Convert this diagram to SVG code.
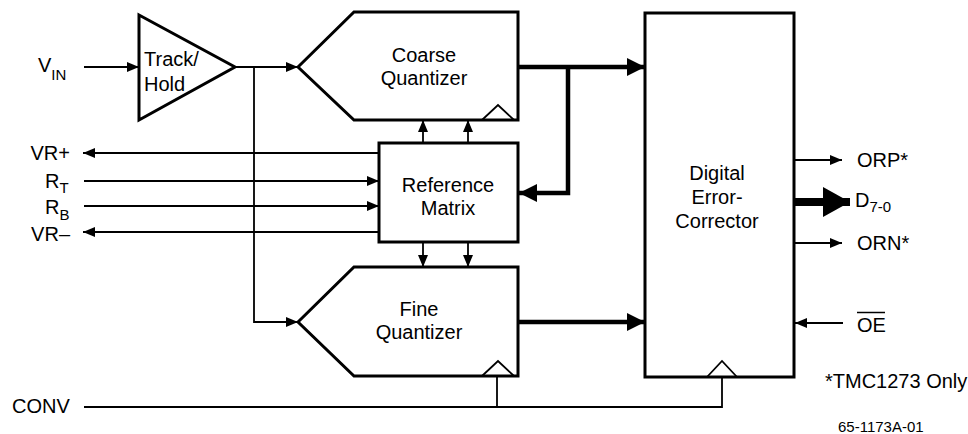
<svg xmlns="http://www.w3.org/2000/svg" width="968" height="434" viewBox="0 0 968 434">
<style>
text{font-family:"Liberation Sans",Arial,sans-serif;font-size:20px;fill:#000}
.box{fill:#fff;stroke:#000;stroke-width:3;stroke-linejoin:miter}
.thin{fill:none;stroke:#000;stroke-width:1.8}
.thick{fill:none;stroke:#000;stroke-width:4.5}
.clk{fill:none;stroke:#000;stroke-width:1.8}
.c{text-anchor:middle}
.r{text-anchor:end}
.sub{font-size:15px}
</style>
<defs>
<marker id="a" viewBox="0 0 12 10" refX="12" refY="5" markerWidth="12" markerHeight="10" markerUnits="userSpaceOnUse" orient="auto"><path d="M0,0L12,5L0,10Z" fill="#000"/></marker>
<marker id="A" viewBox="0 0 18 18" refX="18" refY="9" markerWidth="18" markerHeight="18" markerUnits="userSpaceOnUse" orient="auto"><path d="M0,0L18,9L0,18Z" fill="#000"/></marker>
<marker id="D" viewBox="0 0 27 30" refX="27" refY="15" markerWidth="27" markerHeight="30" markerUnits="userSpaceOnUse" orient="auto"><path d="M0,0L27,15L0,30Z" fill="#000"/></marker>
</defs>
<g id="connectors">
<path class="thin" d="M84,67H139" marker-end="url(#a)"/>
<path class="thin" d="M235,67H298" marker-end="url(#a)"/>
<path class="thin" d="M254,67V322H298" marker-end="url(#a)"/>
<path class="thin" d="M379,153H83" marker-end="url(#a)"/>
<path class="thin" d="M84,181H379" marker-end="url(#a)"/>
<path class="thin" d="M84,206H379" marker-end="url(#a)"/>
<path class="thin" d="M379,232H83" marker-end="url(#a)"/>
<path class="thin" d="M423,143V120" marker-end="url(#a)"/>
<path class="thin" d="M468,143V120" marker-end="url(#a)"/>
<path class="thin" d="M423,242V267" marker-end="url(#a)"/>
<path class="thin" d="M468,242V267" marker-end="url(#a)"/>
<path class="thick" d="M518,67H645" marker-end="url(#A)"/>
<path class="thick" d="M568,67V193H519" marker-end="url(#A)"/>
<path class="thick" d="M518,322H645" marker-end="url(#A)"/>
<path class="thin" d="M84,407H722V377"/>
<path class="thin" d="M497,407V376"/>
<path class="thin" d="M794,160H842" marker-end="url(#a)"/>
<path class="thick" d="M794,202H850" style="stroke-width:8" marker-end="url(#D)"/>
<path class="thin" d="M794,243H842" marker-end="url(#a)"/>
<path class="thin" d="M843,323H795" marker-end="url(#a)"/>
</g>
<g id="track-hold">
<path class="box" d="M139,15L235,67L139,120Z"/>
<text x="144" y="66">Track/</text>
<text x="144" y="91">Hold</text>
</g>
<g id="coarse-quantizer">
<path class="box" d="M298,67L354,12H518V120H354Z"/>
<path class="clk" d="M482,120L498,105L514,120"/>
<text class="c" x="424" y="62">Coarse</text>
<text class="c" x="424" y="85">Quantizer</text>
</g>
<g id="reference-matrix">
<rect class="box" x="379" y="143" width="139" height="99"/>
<text class="c" x="448" y="192">Reference</text>
<text class="c" x="448" y="215">Matrix</text>
</g>
<g id="fine-quantizer">
<path class="box" d="M298,322L354,267H518V376H354Z"/>
<path class="clk" d="M482,376L498,361L514,376"/>
<text class="c" x="419" y="316">Fine</text>
<text class="c" x="419" y="339">Quantizer</text>
</g>
<g id="digital-error-corrector">
<rect class="box" x="645" y="13" width="149" height="364"/>
<path class="clk" d="M707,377L722,361L737,377"/>
<text class="c" x="717" y="180">Digital</text>
<text class="c" x="717" y="204">Error-</text>
<text class="c" x="717" y="228">Corrector</text>
</g>
<g id="labels">
<text x="38" y="72">V<tspan class="sub" dy="8">IN</tspan></text>
<text class="r" x="70" y="160">VR+</text>
<text x="45" y="188">R<tspan class="sub" dy="5">T</tspan></text>
<text x="45" y="214">R<tspan class="sub" dy="6">B</tspan></text>
<text class="r" x="70" y="241">VR–</text>
<text x="12" y="413">CONV</text>
<text x="857" y="167">ORP*</text>
<text x="855" y="207">D<tspan class="sub" dy="5">7-0</tspan></text>
<text x="857" y="250">ORN*</text>
<text x="857" y="332">OE</text>
<path d="M857,312.5H885" stroke="#000" stroke-width="1.5"/>
<text x="825" y="388">*TMC1273 Only</text>
<text x="838" y="432" style="font-size:15px">65-1173A-01</text>
</g>
</svg>
